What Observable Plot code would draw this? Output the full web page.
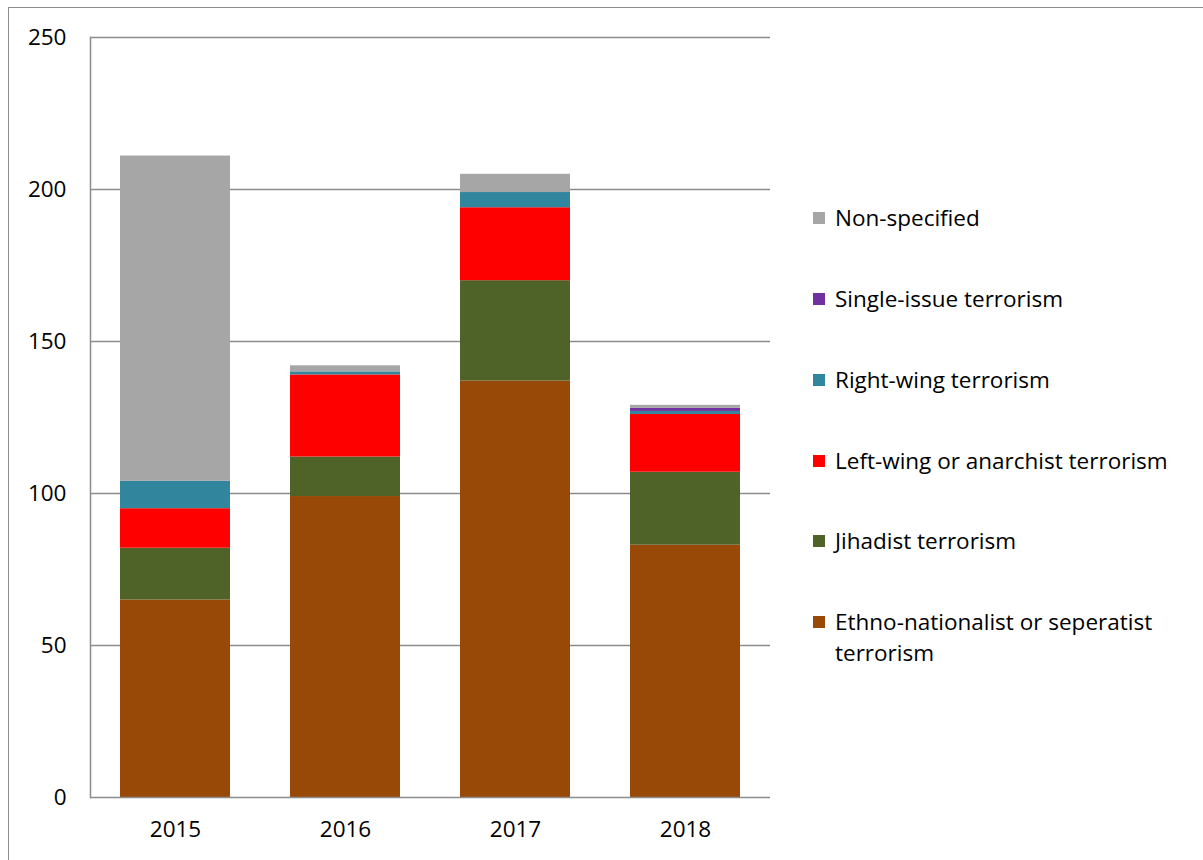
<!DOCTYPE html>
<html>
<head>
<meta charset="utf-8">
<script src="https://cdn.jsdelivr.net/npm/d3@7"></script>
<script src="https://cdn.jsdelivr.net/npm/@observablehq/plot@0.6"></script>
<style>
  body { margin: 0; background: #fff; font-family: "Open Sans", sans-serif; }
  #wrap { position: relative; width: 1203px; height: 860px; overflow: hidden; }
  #frame { position: absolute; left: 8px; top: 7px; width: 1300px; height: 1000px;
           border-left: 1.5px solid #8c8c8c; border-top: 1.5px solid #8c8c8c; pointer-events: none; }
  #legend { position: absolute; left: 813px; top: 0; width: 385px; font-size: 22.5px; color: #000; }
  .item { position: absolute; left: 0; display: flex; align-items: flex-start; width: 385px; line-height: 31px; }
  .sw { width: 12px; height: 12px; margin-top: 10px; margin-right: 10px; flex: none; }
</style>
</head>
<body>
<div id="wrap">
  <div id="chart"></div>
  <div id="legend"></div>
  <div id="frame"></div>
</div>
<script>
const years = ["2015", "2016", "2017", "2018"];
const series = [
  "Ethno-nationalist or seperatist terrorism",
  "Jihadist terrorism",
  "Left-wing or anarchist terrorism",
  "Right-wing terrorism",
  "Single-issue terrorism",
  "Non-specified"
];
const colors = ["#984807", "#4f6228", "#ff0000", "#31859c", "#7030a0", "#a6a6a6"];
const ethno     = [65, 99, 137, 83];
const jihadist  = [17, 13, 33, 24];
const leftWing  = [13, 27, 24, 19];
const rightWing = [9, 1, 5, 1];
const single    = [0, 0, 0, 1];
const nonSpec   = [107, 2, 6, 1];
const yTicks = [0, 50, 100, 150, 200, 250];

const valuesBySeries = [ethno, jihadist, leftWing, rightWing, single, nonSpec];
const data = [];
series.forEach((s, i) => years.forEach((y, j) => data.push({year: y, series: s, value: valuesBySeries[i][j]})));

const chart = Plot.plot({
  width: 1203,
  height: 860,
  marginLeft: 90,
  marginRight: 433,
  marginTop: 37,
  marginBottom: 63,
  style: { fontFamily: "'Open Sans', sans-serif", fontSize: "22.5px", background: "transparent", color: "#000" },
  x: { domain: years, paddingInner: 0.353, paddingOuter: 0.176, label: null, tickSize: 0, tickPadding: 24 },
  y: { domain: [0, 250], ticks: yTicks, label: null, tickSize: 0, tickPadding: 24 },
  color: { domain: series, range: colors },
  marks: [
    Plot.ruleY(yTicks.filter(d => d > 0), { stroke: "#8c8c8c", strokeWidth: 1.5 }),
    Plot.barY(data, Plot.stackY({ order: series }, { x: "year", y: "value", fill: "series", inset: 0 })),
    Plot.ruleY([0], { stroke: "#8c8c8c", strokeWidth: 1.5 }),
    Plot.frame({ anchor: "left", stroke: "#8c8c8c", strokeWidth: 1.5 })
  ]
});
document.getElementById("chart").appendChild(chart);

// legend (top-to-bottom = reverse of stack)
const legendTops = [202, 283, 364, 445, 525, 606];
const legend = document.getElementById("legend");
series.slice().reverse().forEach((s, i) => {
  const idx = series.length - 1 - i;
  const div = document.createElement("div");
  div.className = "item";
  div.style.top = legendTops[i] + "px";
  const sw = document.createElement("span");
  sw.className = "sw";
  sw.style.background = colors[idx];
  const t = document.createElement("span");
  t.textContent = s;
  t.style.maxWidth = "350px";
  div.appendChild(sw);
  div.appendChild(t);
  legend.appendChild(div);
});
</script>
</body>
</html>
